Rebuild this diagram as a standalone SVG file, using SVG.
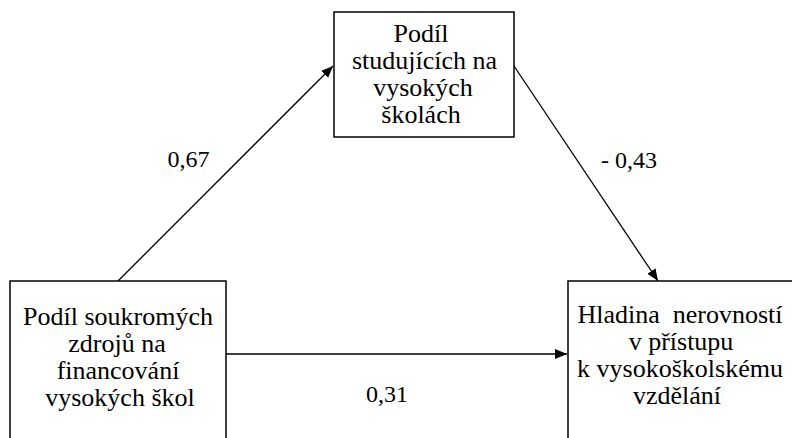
<svg xmlns="http://www.w3.org/2000/svg" width="792" height="438" viewBox="0 0 792 438">
<defs>
<marker id="ah" markerUnits="userSpaceOnUse" markerWidth="12" markerHeight="10" refX="12" refY="5" orient="auto">
<path d="M0,0 L12,5 L0,10 z" fill="#000"/>
</marker>
</defs>
<rect width="792" height="438" fill="#fff"/>
<g id="connectors" stroke="#000" stroke-width="1.3" fill="none">
<line x1="118" y1="281" x2="333" y2="66" marker-end="url(#ah)"/>
<line x1="514" y1="66" x2="658" y2="281" marker-end="url(#ah)"/>
<line x1="226" y1="354" x2="567" y2="354" marker-end="url(#ah)"/>
</g>
<g id="node-studujici">
<rect x="334" y="12" width="180" height="125" fill="#fff" stroke="#000" stroke-width="1.5"/>
<text font-family="Times New Roman" font-size="26" text-anchor="middle" x="421" y="42">Podíl</text>
<text font-family="Times New Roman" font-size="26" text-anchor="middle" x="424.5" y="69">studujících na</text>
<text font-family="Times New Roman" font-size="26" text-anchor="middle" x="423" y="96">vysokých</text>
<text font-family="Times New Roman" font-size="26" text-anchor="middle" x="421" y="123">školách</text>
</g>
<g id="node-zdroje">
<rect x="10" y="281" width="216" height="170" fill="#fff" stroke="#000" stroke-width="1.5"/>
<text font-family="Times New Roman" font-size="26" text-anchor="middle" x="118" y="325">Podíl soukromých</text>
<text font-family="Times New Roman" font-size="26" text-anchor="middle" x="117" y="352">zdrojů na</text>
<text font-family="Times New Roman" font-size="26" text-anchor="middle" x="118" y="379">financování</text>
<text font-family="Times New Roman" font-size="26" text-anchor="middle" x="120" y="406">vysokých škol</text>
</g>
<g id="node-nerovnosti">
<rect x="568" y="281" width="240" height="170" fill="#fff" stroke="#000" stroke-width="1.5"/>
<text font-family="Times New Roman" font-size="26" text-anchor="middle" x="680" y="323" xml:space="preserve">Hladina  nerovností</text>
<text font-family="Times New Roman" font-size="26" text-anchor="middle" x="681" y="350">v přístupu</text>
<text font-family="Times New Roman" font-size="26" text-anchor="middle" x="680" y="377">k vysokoškolskému</text>
<text font-family="Times New Roman" font-size="26" text-anchor="middle" x="677" y="404">vzdělání</text>
</g>
<g id="labels">
<text font-family="Times New Roman" font-size="24" text-anchor="middle" x="188.5" y="167">0,67</text>
<text font-family="Times New Roman" font-size="24" text-anchor="middle" x="629" y="168">- 0,43</text>
<text font-family="Times New Roman" font-size="24" text-anchor="middle" x="387" y="402">0,31</text>
</g>
</svg>
